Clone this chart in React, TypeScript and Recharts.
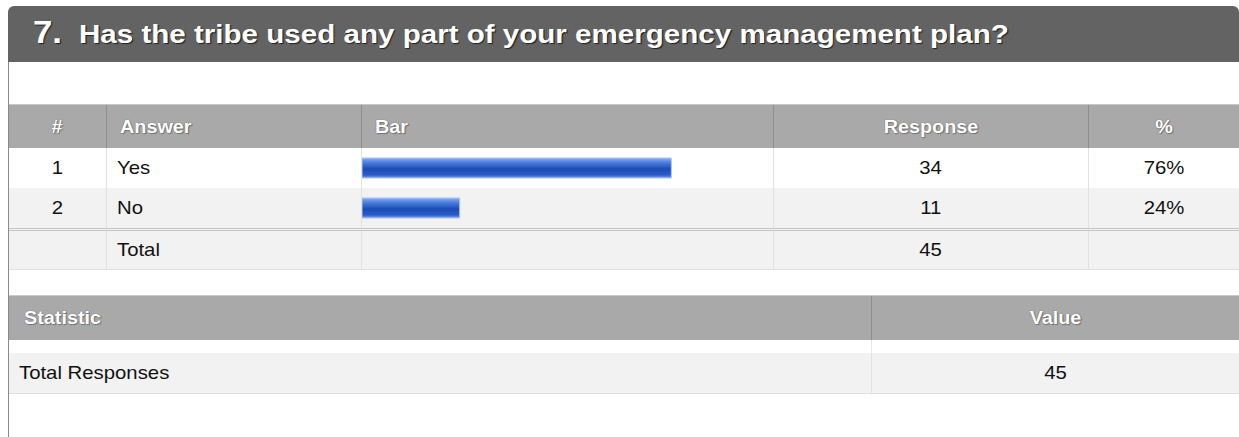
import React from "react"
import { Bar, BarChart, XAxis, YAxis } from "recharts"

const questionNo = "7."
const question = "Has the tribe used any part of your emergency management plan?"
const answers = ["Yes", "No"]
const responses = [34, 11]
const percents = [76, 24]
const totalResponses = 45

const data = answers.map((a, i) => ({ answer: a, pct: percents[i] }))

const font = "'Liberation Sans', Arial, sans-serif"

// column edges of the answer table
const cols = [8, 106, 361, 773, 1088, 1239]

// the source screenshot is a bit stretched sideways, so text is widened
function T({ s, children, origin = "left" }: { s: number; children: React.ReactNode; origin?: string }) {
    return <span style={{ display: "inline-block", transform: `scaleX(${s})`, transformOrigin: origin }}>{children}</span>
}

function HeadCell({ x, w, text, align }: { x: number; w: number; text: string; align: "left" | "center" }) {
    return (
        <div style={{
            position: "absolute", left: x, top: 0, width: w, height: 44,
            lineHeight: "44px", textAlign: align, paddingLeft: align === "left" ? 13 : 0,
            boxSizing: "border-box", color: "#fff", fontWeight: "bold", fontSize: 18,
            textShadow: "0 0 1px #555, 1px 1px 1px #777",
            borderLeft: x > 0 ? "1px solid #8e8e8e" : "none",
        }}><T s={1.1} origin={align === "left" ? "left" : "center"}>{text}</T></div>
    )
}

function Cell({ x, w, y, h, text, align, pad = 10 }: { x: number; w: number; y: number; h: number; text: string; align: "left" | "center"; pad?: number }) {
    return (
        <div style={{
            position: "absolute", left: x, top: y, width: w, height: h,
            lineHeight: h + "px", textAlign: align, paddingLeft: align === "left" ? pad : 0,
            boxSizing: "border-box", color: "#111", fontSize: 19,
            borderLeft: x > 9 ? "1px solid #e2e2e2" : "none",
        }}><T s={1.07} origin={align === "left" ? "left" : "center"}>{text}</T></div>
    )
}

export default function App() {
    const rowY = [148, 188]
    return (
        <div style={{ position: "absolute", left: 0, top: 0, width: 1239, height: 437, background: "#fff", fontFamily: font, overflow: "hidden" }}>
            {/* title bar */}
            <div style={{
                position: "absolute", left: 8, top: 6, width: 1231, height: 56, background: "#636363",
                borderRadius: "6px 6px 0 0", color: "#fff", whiteSpace: "nowrap",
            }}>
                <span style={{ position: "absolute", left: 25, top: 5, fontSize: 31, lineHeight: "44px", fontWeight: "bold", textShadow: "1px 1px 1px #222" }}><T s={1.12}>{questionNo}</T></span>
                <span style={{ position: "absolute", left: 71, top: 10, fontSize: 26, lineHeight: "36px", fontWeight: "bold", textShadow: "1px 1px 1px #222" }}><T s={1.137}>{question}</T></span>
            </div>
            {/* left border */}
            <div style={{ position: "absolute", left: 8, top: 62, width: 1, height: 380, background: "#8a8a8a" }} />

            {/* answer table header */}
            <div style={{ position: "absolute", left: 9, top: 104, width: 1230, height: 44, background: "#a9a9a9", borderTop: "1px solid #c8c8c8", boxSizing: "border-box" }}>
                <HeadCell x={0} w={cols[1] - 9} text="#" align="center" />
                <HeadCell x={cols[1] - 9} w={cols[2] - cols[1]} text="Answer" align="left" />
                <HeadCell x={cols[2] - 9} w={cols[3] - cols[2]} text="Bar" align="left" />
                <HeadCell x={cols[3] - 9} w={cols[4] - cols[3]} text="Response" align="center" />
                <HeadCell x={cols[4] - 9} w={cols[5] - cols[4]} text="%" align="center" />
            </div>

            {/* rows */}
            <div style={{ position: "absolute", left: 9, top: 148, width: 1230, height: 40, background: "#fff" }} />
            <div style={{ position: "absolute", left: 9, top: 188, width: 1230, height: 40, background: "#f2f2f2" }} />
            <div style={{ position: "absolute", left: 9, top: 228, width: 1230, height: 42, background: "#f2f2f2", borderTop: "3px double #c4c4c4", borderBottom: "1px solid #e0e0e0", boxSizing: "border-box" }} />
            {answers.map((a, i) => (
                <React.Fragment key={a}>
                    <Cell x={9} w={cols[1] - 9} y={rowY[i]} h={40} text={String(i + 1)} align="center" />
                    <Cell x={cols[1]} w={cols[2] - cols[1]} y={rowY[i]} h={40} text={a} align="left" />
                    <Cell x={cols[2]} w={cols[3] - cols[2]} y={rowY[i]} h={40} text="" align="left" />
                    <Cell x={cols[3]} w={cols[4] - cols[3]} y={rowY[i]} h={40} text={String(responses[i])} align="center" />
                    <Cell x={cols[4]} w={cols[5] - cols[4]} y={rowY[i]} h={40} text={percents[i] + "%"} align="center" />
                </React.Fragment>
            ))}
            <Cell x={9} w={cols[1] - 9} y={231} h={38} text="" align="center" />
            <Cell x={cols[1]} w={cols[2] - cols[1]} y={231} h={38} text="Total" align="left" />
            <Cell x={cols[2]} w={cols[3] - cols[2]} y={231} h={38} text="" align="left" />
            <Cell x={cols[3]} w={cols[4] - cols[3]} y={231} h={38} text={String(totalResponses)} align="center" />
            <Cell x={cols[4]} w={cols[5] - cols[4]} y={231} h={38} text="" align="center" />

            {/* bars */}
            <div style={{ position: "absolute", left: 362, top: 148 }}>
                <BarChart width={407} height={80} data={data} layout="vertical" margin={{ top: 0, right: 0, bottom: 0, left: 0 }}>
                    <defs>
                        <linearGradient id="barGrad" x1="0" y1="0" x2="0" y2="1">
                            <stop offset="0%" stopColor="#8fb2f2" />
                            <stop offset="20%" stopColor="#4f82e2" />
                            <stop offset="55%" stopColor="#1c4cb3" />
                            <stop offset="85%" stopColor="#2a5ccb" />
                            <stop offset="100%" stopColor="#7fa4ec" />
                        </linearGradient>
                    </defs>
                    <XAxis type="number" domain={[0, 100]} hide />
                    <YAxis type="category" dataKey="answer" hide />
                    <Bar dataKey="pct" fill="url(#barGrad)" stroke="#a9c2f2" strokeWidth={1} barSize={20} isAnimationActive={false} />
                </BarChart>
            </div>

            {/* statistic table */}
            <div style={{ position: "absolute", left: 9, top: 295, width: 1230, height: 45, background: "#a9a9a9", borderTop: "1px solid #c8c8c8", boxSizing: "border-box" }}>
                <div style={{ position: "absolute", left: 0, top: 0, width: 862, height: 44, lineHeight: "44px", paddingLeft: 15, boxSizing: "border-box", color: "#fff", fontWeight: "bold", fontSize: 18, textShadow: "0 0 1px #555, 1px 1px 1px #777" }}><T s={1.1}>Statistic</T></div>
                <div style={{ position: "absolute", left: 862, top: 0, width: 368, height: 44, lineHeight: "44px", textAlign: "center", color: "#fff", fontWeight: "bold", fontSize: 18, textShadow: "0 0 1px #555, 1px 1px 1px #777", borderLeft: "1px solid #8e8e8e" }}><T s={1.1} origin="center">Value</T></div>
            </div>
            <div style={{ position: "absolute", left: 871, top: 340, width: 1, height: 13, background: "#e8e8e8" }} />
            <div style={{ position: "absolute", left: 9, top: 353, width: 1230, height: 41, background: "#f2f2f2", borderBottom: "1px solid #e0e0e0", boxSizing: "border-box", fontSize: 19, color: "#111" }}>
                <div style={{ position: "absolute", left: 10, top: 0, height: 40, lineHeight: "40px", whiteSpace: "nowrap" }}><T s={1.07}>Total Responses</T></div>
                <div style={{ position: "absolute", left: 862, top: 0, width: 368, height: 40, lineHeight: "40px", textAlign: "center", borderLeft: "1px solid #e2e2e2" }}><T s={1.07} origin="center">{totalResponses}</T></div>
            </div>
        </div>
    )
}
